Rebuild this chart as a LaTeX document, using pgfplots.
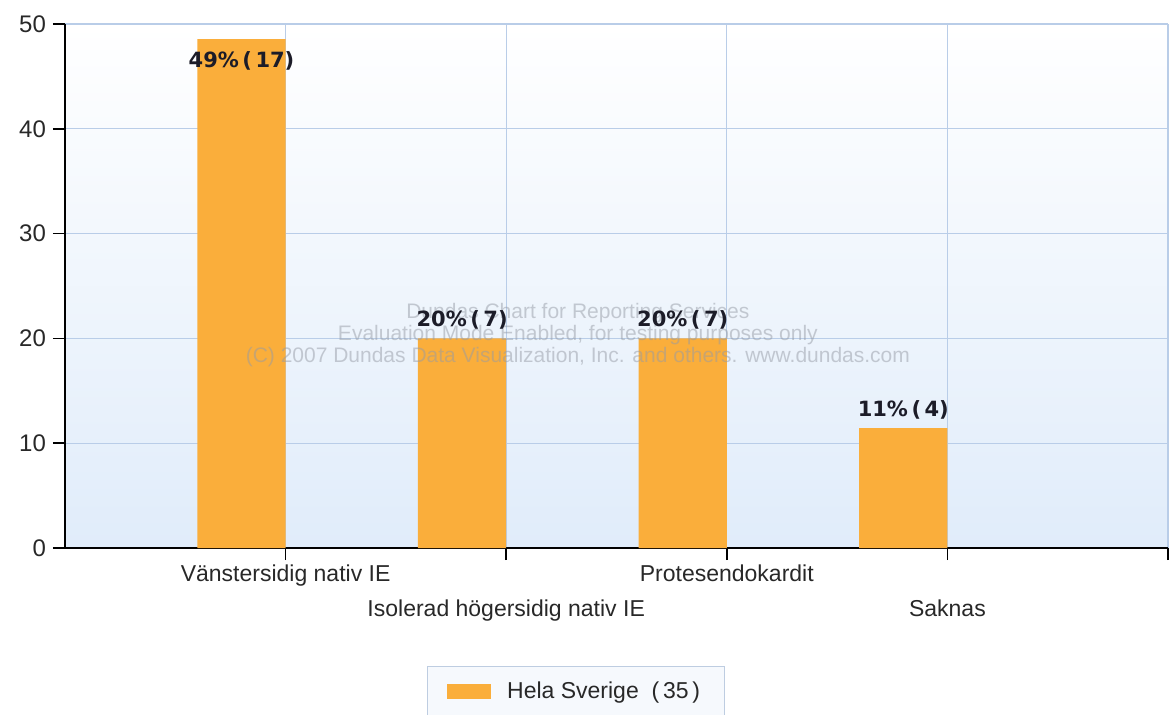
\documentclass[border=0pt]{standalone}
\usepackage{pgfplots}
\pgfplotsset{compat=1.18}
\usepackage{fontspec}
\setmainfont{Liberation Sans}
\newfontfamily\barlabelfont{DejaVu Sans}
\definecolor{barorange}{RGB}{250,174,59}
\definecolor{gridblue}{RGB}{185,205,232}
\definecolor{bgblue}{RGB}{224,236,250}
\definecolor{labelgray}{RGB}{40,40,40}
\definecolor{legfill}{RGB}{246,249,253}
\definecolor{legborder}{RGB}{190,205,225}
\definecolor{wmark}{RGB}{150,155,165}

\begin{document}
\begin{tikzpicture}
\useasboundingbox (-32.5pt,-83pt) rectangle (554pt,274pt);
\begin{axis}[
  at={(0pt,0pt)}, anchor=south west,
  scale only axis, width=551.5pt, height=262pt,
  xmin=0, xmax=5, ymin=0, ymax=50,
  axis x line*=bottom, axis y line*=left,
  axis line style={black, line width=0.9pt, -},
  axis background/.style={top color=white, bottom color=bgblue},
  xtick={1,2,3,4,5},
  xticklabels={{\strut Vänstersidig nativ IE},{\strut\\[4.5pt]Isolerad högersidig nativ IE},{\strut Protesendokardit},{\strut\\[4.5pt]Saknas},{}},
  ytick={0,10,20,30,40,50},
  tick align=outside, major tick length=6pt,
  tick style={black, line width=0.8pt},
  grid=major, major grid style={gridblue, line width=0.6pt},
  /pgf/number format/assume math mode=true,
  x tick label style={align=center, font=\fontsize{11.5}{13}\selectfont, text=labelgray, yshift=2pt},
  y tick label style={font=\fontsize{12}{14}\selectfont, text=labelgray},
  legend style={at={(0.463,-0.225)}, anchor=north, draw=legborder, fill=legfill,
    inner xsep=10pt, inner ysep=6pt, font=\fontsize{11.5}{13}\selectfont, text=labelgray,
    /tikz/every odd column/.append style={column sep=6pt}},
  legend image code/.code={\fill[barorange] (0pt,-3.5pt) rectangle (22pt,4pt);},
]
\addplot[ybar, bar width=0.4, fill=barorange, draw=none,
  nodes near coords, point meta=explicit symbolic,
  every node near coord/.append style={font=\barlabelfont\bfseries\fontsize{10.5}{12}\selectfont,
    text={rgb,255:red,28;green,28;blue,40}, yshift=1pt},
  coordinate style/.condition={\coordindex==0}{anchor=north, yshift=-3.5pt},
] coordinates {
  (0.8,48.57) [49\%\,(\,17)]
  (1.8,20.00) [20\%\,(\,7)]
  (2.8,20.00) [20\%\,(\,7)]
  (3.8,11.43) [11\%\,(\,4)]
};
\addlegendentry{Hela Sverige ~(\,35\,)\hspace{12.5pt}}
\node[text=wmark, opacity=0.5, align=center, font=\fontsize{10.5}{11}\selectfont]
  at (axis cs:2.325,20.3)
  {Dundas Chart for Reporting Services\\Evaluation Mode Enabled, for testing purposes only\\(C) 2007 Dundas Data Visualization, Inc. and others. www.dundas.com};
\end{axis}
\end{tikzpicture}
\end{document}
